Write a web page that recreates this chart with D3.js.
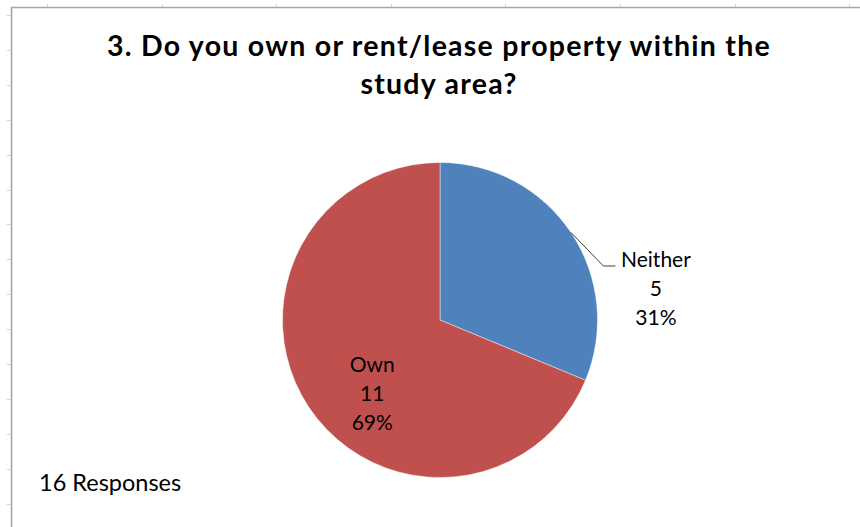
<!DOCTYPE html>
<html>
<head>
<meta charset="utf-8">
<script src="https://cdn.jsdelivr.net/npm/d3@7"></script>
<style>
  html, body { margin: 0; padding: 0; background: #fff; }
  svg { display: block; }
</style>
</head>
<body>
<svg id="chart" width="860" height="527"></svg>
<script>
// Survey answers, in drawing order (clockwise from 12 o'clock)
const categories = ["Neither", "Own"];
const counts = [5, 11];
const colors = ["#4F81BD", "#C0504D"];
const titleLines = ["3. Do you own or rent/lease property within the", "study area?"];
const footnote = "16 Responses";

const W = 860, H = 527;
const svg = d3.select("#chart");
const total = d3.sum(counts);

// Sheet grid stubs peeking out around the chart frame
const grid = svg.append("g").attr("stroke", "#d4d4d4").attr("stroke-width", 1);
d3.range(15, H, 34.9).forEach(y => {
  grid.append("line").attr("x1", 7).attr("x2", 10.5).attr("y1", Math.round(y) + 0.5).attr("y2", Math.round(y) + 0.5);
});
d3.range(47, W, 114.6).forEach(x => {
  grid.append("line").attr("y1", 4).attr("y2", 7).attr("x1", Math.round(x) + 0.5).attr("x2", Math.round(x) + 0.5);
});

// Chart frame (left and top edges visible)
svg.append("path")
  .attr("d", `M11.5,${H} L11.5,7.5 L${W},7.5`)
  .attr("fill", "none")
  .attr("stroke", "#a6a6a6")
  .attr("stroke-width", 1.6);

// Title
const title = svg.append("text")
  .attr("text-anchor", "middle")
  .attr("font-family", "Lato, 'Open Sans', sans-serif")
  .attr("font-weight", "bold")
  .attr("font-size", 28.5)
  .attr("letter-spacing", 1.25)
  .attr("fill", "#000");
titleLines.forEach((t, i) => {
  title.append("tspan").attr("x", 439).attr("y", 56 + i * 38).text(t);
});

// Pie
const cx = 440, cy = 320, r = 157.5;
const pie = d3.pie().sort(null).value(d => d)(counts);
const arc = d3.arc().innerRadius(0).outerRadius(r);
const g = svg.append("g").attr("transform", `translate(${cx},${cy})`);

g.selectAll("path.slice")
  .data(pie)
  .join("path")
  .attr("class", "slice")
  .attr("d", arc)
  .attr("fill", (d, i) => colors[i])
  .attr("stroke", "rgba(255,255,255,0.55)")
  .attr("stroke-width", 0.8);

const fmtPct = v => Math.round(v / total * 100) + "%";
const labelFont = "Lato, 'Open Sans', sans-serif";

// Inside label for the large slice
const inner = pie[1];
const innerArc = d3.arc().innerRadius(0).outerRadius(r * 1.05);
const [ix, iy] = innerArc.centroid(inner);
const innerLabel = g.append("text")
  .attr("text-anchor", "middle")
  .attr("font-family", labelFont)
  .attr("font-size", 21)
  .attr("fill", "#000");
[categories[1], counts[1], fmtPct(counts[1])].forEach((t, k) => {
  innerLabel.append("tspan").attr("x", ix + 1).attr("y", iy + 6 + k * 29).text(t);
});

// Outside label with leader line for the small slice
const outer = pie[0];
const mid = (outer.startAngle + outer.endAngle) / 2;
const sx = r * Math.sin(mid), sy = -r * Math.cos(mid);
const bx = sx + 32.5, by = sy + 33.5;
g.append("polyline")
  .attr("points", [[sx, sy], [bx, by], [bx + 12, by]].map(p => p.join(",")).join(" "))
  .attr("fill", "none")
  .attr("stroke", "#404040")
  .attr("stroke-width", 1);

const outerLabel = g.append("text")
  .attr("text-anchor", "middle")
  .attr("font-family", labelFont)
  .attr("font-size", 21)
  .attr("fill", "#000");
[categories[0], counts[0], fmtPct(counts[0])].forEach((t, k) => {
  outerLabel.append("tspan").attr("x", bx + 52.5).attr("y", by + 0.5 + k * 29).text(t);
});

// Response count note
svg.append("text")
  .attr("x", 39)
  .attr("y", 491)
  .attr("font-family", labelFont)
  .attr("font-size", 23.5)
  .attr("fill", "#000")
  .text(footnote);
</script>
</body>
</html>
